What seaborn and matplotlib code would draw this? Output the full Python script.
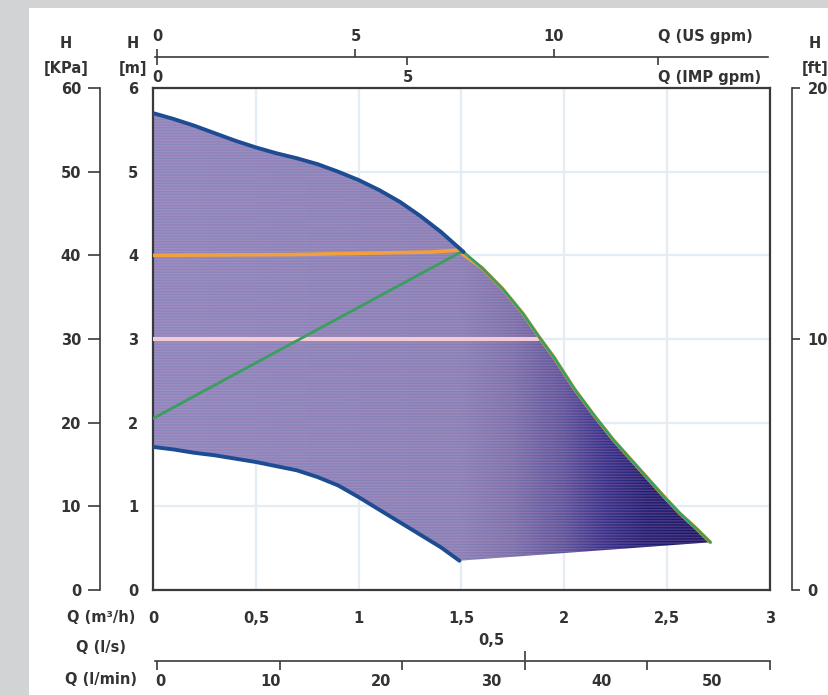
import numpy as np
import seaborn as sns
import matplotlib.pyplot as plt
from matplotlib.colors import LinearSegmentedColormap
from matplotlib.patches import Polygon, Rectangle

# Du lieu doc tu hinh (Q m3/h, H m)
q_max = [0, 0.1, 0.2, 0.3, 0.4, 0.5, 0.6, 0.7, 0.8, 0.9, 1.0, 1.1, 1.2, 1.3, 1.4, 1.51]
h_max = [5.70, 5.63, 5.55, 5.46, 5.37, 5.29, 5.22, 5.16, 5.09, 5.00, 4.90, 4.78,
         4.64, 4.47, 4.28, 4.04]
q_edge = [1.51, 1.6, 1.7, 1.8, 1.87, 1.95, 2.05, 2.15, 2.24, 2.32, 2.40, 2.48,
          2.56, 2.64, 2.71]
h_edge = [4.04, 3.85, 3.60, 3.30, 3.05, 2.78, 2.40, 2.07, 1.79, 1.57, 1.35, 1.13,
          0.92, 0.74, 0.57]
q_min = [0, 0.1, 0.2, 0.3, 0.4, 0.5, 0.6, 0.7, 0.8, 0.9, 1.0, 1.1, 1.2, 1.3, 1.4, 1.49]
h_min = [1.71, 1.68, 1.64, 1.61, 1.57, 1.53, 1.48, 1.43, 1.35, 1.25, 1.11, 0.96,
         0.81, 0.66, 0.51, 0.35]
q_orange = [0, 0.70, 1.35, 1.48]
h_orange = [4.00, 4.01, 4.04, 4.06]
q_green = [0, 1.49]
h_green = [2.05, 4.03]
q_ref = [0, 1.87]
h_ref = [3.0, 3.0]

# Nhan truc
x_ticks = [0, 0.5, 1, 1.5, 2, 2.5, 3]
x_labels = ['0', '0,5', '1', '1,5', '2', '2,5', '3']
y_ticks = [0, 1, 2, 3, 4, 5, 6]
kpa_ticks = [0, 10, 20, 30, 40, 50, 60]
ft_ticks = [0, 10, 20]
us_ticks = [0, 5, 10]
imp_ticks = [0, 5, 10]
imp_labels = ['0', '5', 'Q (IMP gpm)']
lmin_ticks = [0, 10, 20, 30, 40, 50]
ls_ticks = [0.5]
ls_labels = ['0,5']

# Mau gradient cua vung to
grad_q = [0, 1.5, 1.75, 2.0, 2.2, 2.4, 2.72]
grad_c = ['#8a87be', '#8581b7', '#7772ac', '#5a559c', '#35328a', '#201f73', '#181866']

W, H = 829, 695
TXT = '#333333'
LINE = '#3a3a3a'
FS = 10.5


def fx(p):
    return p / W


def fy(p):
    return 1 - p / H


sns.set_theme(style='white')
plt.rcParams['font.family'] = ['DejaVu Sans']
plt.rcParams['font.weight'] = 'bold'
plt.rcParams['hatch.linewidth'] = 1.0
plt.rcParams['text.color'] = TXT

fig = plt.figure(figsize=(W / 100, H / 100), dpi=100)
fig.patch.set_facecolor('#d2d3d5')
fig.add_artist(Rectangle((fx(29), 0), 1, fy(8), transform=fig.transFigure,
                         facecolor='white', edgecolor='none', zorder=0))

# Truc chinh
ax = fig.add_axes([fx(153), fy(590), (770 - 153) / W, (590 - 88) / H])
ax.set_facecolor('white')

cmap = LinearSegmentedColormap.from_list(
    'fill', list(zip(np.array(grad_q) / grad_q[-1], grad_c)))
xx = np.linspace(0, grad_q[-1], 400)
img = ax.imshow(xx[None, :], extent=(0, grad_q[-1], 0, 6), aspect='auto',
                cmap=cmap, vmin=0, vmax=grad_q[-1], origin='lower', zorder=1)
px = q_max + q_edge[1:] + q_min[::-1]
py = h_max + h_edge[1:] + h_min[::-1]
poly = Polygon(np.column_stack([px, py]), closed=True, facecolor='none',
               edgecolor='none')
ax.add_patch(poly)
img.set_clip_path(poly)
ax.fill(px, py, facecolor='none', edgecolor=(0.96, 0.64, 0.78, 0.22),
        hatch='------', lw=0, zorder=2)

sns.lineplot(x=q_ref, y=h_ref, ax=ax, color='#f4cbd5', linewidth=3,
             sort=False, estimator=None, zorder=3)
sns.lineplot(x=q_orange + q_edge[1:], y=h_orange + h_edge[1:], ax=ax,
             color='#f3a03c', linewidth=2.6, sort=False, estimator=None, zorder=4)
sns.lineplot(x=q_green + q_edge, y=h_green + h_edge, ax=ax, color='#3a9e5f',
             linewidth=2, sort=False, estimator=None, zorder=5)
sns.lineplot(x=q_max, y=h_max, ax=ax, color='#1d4c93', linewidth=2.8,
             sort=False, estimator=None, zorder=6)
sns.lineplot(x=q_min, y=h_min, ax=ax, color='#1d4c93', linewidth=2.8,
             sort=False, estimator=None, zorder=6)

ax.set_xlim(0, 3)
ax.set_ylim(0, 6)
ax.set_xticks(x_ticks)
ax.set_xticklabels(x_labels)
ax.set_yticks(y_ticks)
ax.set_xlabel('')
ax.set_ylabel('')
ax.grid(True, color='#e4ecf4', linewidth=1.6)
ax.set_axisbelow(True)
ax.tick_params(axis='x', length=0, pad=15, labelsize=FS, labelcolor=TXT)
ax.tick_params(axis='y', length=0, pad=10.5, labelsize=FS, labelcolor=TXT)
for s in ax.spines.values():
    s.set_visible(True)
    s.set_color(LINE)
    s.set_linewidth(1.6)


def bare_axes(rect):
    a = fig.add_axes(rect)
    a.patch.set_visible(False)
    for s in a.spines.values():
        s.set_visible(False)
        s.set_color(LINE)
        s.set_linewidth(1.2)
    return a


# Truc H [KPa]
ax_kpa = bare_axes([fx(100), fy(590), 0.0005, (590 - 88) / H])
ax_kpa.set_ylim(0, 60)
ax_kpa.set_yticks(kpa_ticks)
ax_kpa.set_xticks([])
ax_kpa.spines['left'].set_visible(True)
ax_kpa.tick_params(axis='y', left=True, length=8.5, width=1.2, pad=5,
                   labelsize=FS, labelcolor=TXT, color=LINE)

# Truc H [ft]
ax_ft = bare_axes([fx(792), fy(590), 0.0005, (590 - 88) / H])
ax_ft.set_ylim(0, 20)
ax_ft.set_yticks(ft_ticks)
ax_ft.set_xticks([])
ax_ft.yaxis.tick_right()
ax_ft.spines['right'].set_visible(True)
ax_ft.tick_params(axis='y', right=True, length=6, width=1.2, pad=5,
                  labelsize=FS, labelcolor=TXT, color=LINE)

# Truc tren: US gpm / IMP gpm
top_rect = [fx(155), fy(57), (768 - 155) / W, 0.0005]
ax_us = bare_axes(top_rect)
ax_us.set_xlim((155 - 157) / 39.7, (768 - 157) / 39.7)
ax_us.set_yticks([])
ax_us.xaxis.tick_top()
ax_us.set_xticks(us_ticks)
ax_us.spines['top'].set_visible(True)
ax_us.tick_params(axis='x', top=True, length=6, width=1.2, pad=3,
                  labelsize=FS, labelcolor=TXT, color=LINE)
ax_us.annotate('Q (US gpm)', xy=(15, 1), xycoords=('data', 'axes fraction'),
               xytext=(0, 9), textcoords='offset points', ha='right',
               va='bottom', fontsize=FS, color=TXT)

ax_imp = bare_axes(top_rect)
ax_imp.set_xlim((155 - 157) / 50.1, (768 - 157) / 50.1)
ax_imp.set_yticks([])
ax_imp.set_xticks(imp_ticks)
ax_imp.set_xticklabels(imp_labels)
ax_imp.get_xticklabels()[-1].set_ha('left')
ax_imp.tick_params(axis='x', bottom=True, length=6, width=1.2, pad=3.5,
                   labelsize=FS, labelcolor=TXT, color=LINE)

# Truc duoi: l/min va l/s
bot_rect = [fx(155), fy(660.5), (770 - 155) / W, 0.0005]
ax_lmin = bare_axes(bot_rect)
ax_lmin.set_xlim((155 - 157) / 12.26, (770 - 157) / 12.26 + 0.01)
ax_lmin.set_yticks([])
ax_lmin.set_xticks(lmin_ticks)
ax_lmin.set_xticklabels([])
ax_lmin.spines['bottom'].set_visible(True)
ax_lmin.tick_params(axis='x', bottom=True, length=6.5, width=1.2, color=LINE)

ax_ls = bare_axes(bot_rect)
ax_ls.set_xlim(((155 - 157) / 12.26) / 60, ((770 - 157) / 12.26 + 0.01) / 60)
ax_ls.set_yticks([])
ax_ls.xaxis.tick_top()
ax_ls.set_xticks(ls_ticks)
ax_ls.set_xticklabels([])
ax_ls.tick_params(axis='x', top=True, length=6.5, width=1.2, color=LINE)

# nhan cua truc duoi (lech so voi vach nhu ban goc)
ax_lmin_lab = bare_axes(bot_rect)
ax_lmin_lab.set_xlim((155 - 160) / 11.04, (770 - 160) / 11.04)
ax_lmin_lab.set_yticks([])
ax_lmin_lab.set_xticks(lmin_ticks)
ax_lmin_lab.tick_params(axis='x', length=0, pad=10, labelsize=FS,
                        labelcolor=TXT)

ax_ls_lab = bare_axes(bot_rect)
ax_ls_lab.set_xlim(((155 - 160) / 11.04) / 60, ((770 - 160) / 11.04) / 60)
ax_ls_lab.set_yticks([])
ax_ls_lab.xaxis.tick_top()
ax_ls_lab.set_xticks(ls_ticks)
ax_ls_lab.set_xticklabels(ls_labels)
ax_ls_lab.tick_params(axis='x', length=0, pad=9, labelsize=FS,
                      labelcolor=TXT)

# Ten cac truc
fig.text(fx(66), fy(43), 'H', ha='center', va='center', fontsize=FS)
fig.text(fx(66), fy(68), '[KPa]', ha='center', va='center', fontsize=FS)
fig.text(fx(133), fy(43), 'H', ha='center', va='center', fontsize=FS)
fig.text(fx(133), fy(68), '[m]', ha='center', va='center', fontsize=FS)
fig.text(fx(815), fy(44), 'H', ha='center', va='center', fontsize=FS)
fig.text(fx(815), fy(69), '[ft]', ha='center', va='center', fontsize=FS)
fig.text(fx(101), fy(617), 'Q (m³/h)', ha='center', va='center', fontsize=FS)
fig.text(fx(101), fy(647), 'Q (l/s)', ha='center', va='center', fontsize=FS)
fig.text(fx(101), fy(680), 'Q (l/min)', ha='center', va='center', fontsize=FS)

fig.savefig('out.png', dpi=100, facecolor=fig.get_facecolor())
